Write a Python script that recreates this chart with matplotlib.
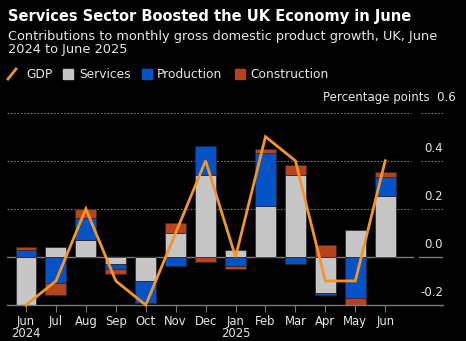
import matplotlib
matplotlib.use("Agg")
import matplotlib.pyplot as plt
from matplotlib.patches import Rectangle
from matplotlib.lines import Line2D
import numpy as np

months = ["Jun\n2024", "Jul", "Aug", "Sep", "Oct", "Nov", "Dec", "Jan\n2025",
          "Feb", "Mar", "Apr", "May", "Jun"]
services = [-0.20, 0.041, 0.072, -0.028, -0.100, 0.100, 0.342, 0.030, 0.210, 0.341, -0.149, 0.113, 0.252]
production = [0.030, -0.110, 0.090, -0.021, -0.091, -0.039, 0.120, -0.039, 0.222, -0.030, -0.010, -0.170, 0.079]
construction = [0.011, -0.048, 0.039, -0.021, 0.0, 0.041, -0.021, -0.011, 0.019, 0.041, 0.051, -0.030, 0.021]
gdp = [-0.20, -0.10, 0.20, -0.10, -0.20, 0.10, 0.40, 0.0, 0.50, 0.40, -0.10, -0.10, 0.40]
yticks = [-0.2, 0.0, 0.2, 0.4]

C_SERV = "#c6c6c6"
C_PROD = "#0353c6"
C_CONS = "#b9421c"
C_GDP = "#f0962c"
BG = "#000000"
TXT = "#e8e8e8"
GRID = "#7a7a7a"

W, H = 466, 341
fig = plt.figure(figsize=(W / 100, H / 100), dpi=100, facecolor=BG)

def fx(px):
    return px / W

def fy(py):
    return 1 - py / H

ax_l, ax_r, ax_t, ax_b = 7, 443, 112.7, 305
ax = fig.add_axes([fx(ax_l), fy(ax_b), (ax_r - ax_l) / W, (ax_b - ax_t) / H])
ax.set_facecolor(BG)

x = np.arange(len(months))
ax.set_xlim(-0.635, 13.93)
ax.set_ylim(-0.2, 0.6)

# gridlines
gx_end = (411 - ax_l) / (ax_r - ax_l)
gx2_start = (421 - ax_l) / (ax_r - ax_l)
for v in [0.2, 0.4, 0.6]:
    ax.axhline(v, xmin=0, xmax=gx_end, color=GRID, lw=0.8, ls=(0, (1.5, 1.5)), zorder=1)
    ax.axhline(v, xmin=gx2_start, xmax=1, color=GRID, lw=0.8, ls=(0, (1.5, 1.5)), zorder=1)
ax.axhline(0, xmin=0, xmax=(413 - ax_l) / (ax_r - ax_l), color=GRID, lw=1.0, zorder=1)
ax.axhline(0, xmin=(419 - ax_l) / (ax_r - ax_l), xmax=1, color=GRID, lw=1.0, zorder=1)

# stacked bars (positive and negative stacked separately)
width = 0.7
pos_base = np.zeros(len(x))
neg_base = np.zeros(len(x))
for vals, col in [(services, C_SERV), (production, C_PROD), (construction, C_CONS)]:
    vals = np.array(vals)
    bottoms = np.where(vals >= 0, pos_base, neg_base)
    ax.bar(x, vals, width, bottom=bottoms, color=col, edgecolor="#2a2a2a", lw=0.5, zorder=2)
    pos_base = pos_base + np.where(vals >= 0, vals, 0)
    neg_base = neg_base + np.where(vals < 0, vals, 0)

ax.plot(x, gdp, color=C_GDP, lw=2.0, zorder=3, solid_joinstyle="miter", clip_on=False)

for s in ["top", "right", "left"]:
    ax.spines[s].set_visible(False)
ax.spines["bottom"].set_color(GRID)
ax.spines["bottom"].set_linewidth(1.0)
ax.set_yticks([])
ax.set_xticks(x)
ax.set_xticklabels(months, color=TXT, fontsize=8.4, linespacing=0.95)
ax.tick_params(axis="x", colors=GRID, length=5, width=0.8, pad=2, labelcolor=TXT)

# y labels above gridlines on the right
for v in yticks:
    lbl = f"{v:.1f}" if v >= 0 else f"-{abs(v):.1f}"
    ax.text(13.93, v + 0.024, lbl, transform=ax.transData, ha="right", va="bottom",
            color=TXT, fontsize=8.5, clip_on=False)
fig.text(fx(456), fy(98), "Percentage points  0.6", ha="right", va="center", color=TXT, fontsize=8.5)

# titles
fig.text(fx(8), fy(16), "Services Sector Boosted the UK Economy in June", ha="left", va="center",
         color="#ffffff", fontsize=10.5, fontweight="bold")
fig.text(fx(8), fy(43), "Contributions to monthly gross domestic product growth, UK, June\n2024 to June 2025",
         ha="left", va="center", color=TXT, fontsize=9.3, linespacing=1.05)

# legend
ly = 74
fig.add_artist(Line2D([fx(8), fx(16)], [fy(ly + 5), fy(ly - 5)], color=C_GDP, lw=2))
fig.text(fx(26), fy(ly), "GDP", ha="left", va="center", color=TXT, fontsize=8.8)
for sx, tx, col, lab in [(63, 79, C_SERV, "Services"), (142, 157, C_PROD, "Production"),
                         (235, 250, C_CONS, "Construction")]:
    fig.add_artist(Rectangle((fx(sx), fy(ly + 5)), 10 / W, 10 / H, color=col, transform=fig.transFigure))
    fig.text(fx(tx), fy(ly), lab, ha="left", va="center", color=TXT, fontsize=8.8)

fig.savefig("out.png", dpi=100, facecolor=BG)
